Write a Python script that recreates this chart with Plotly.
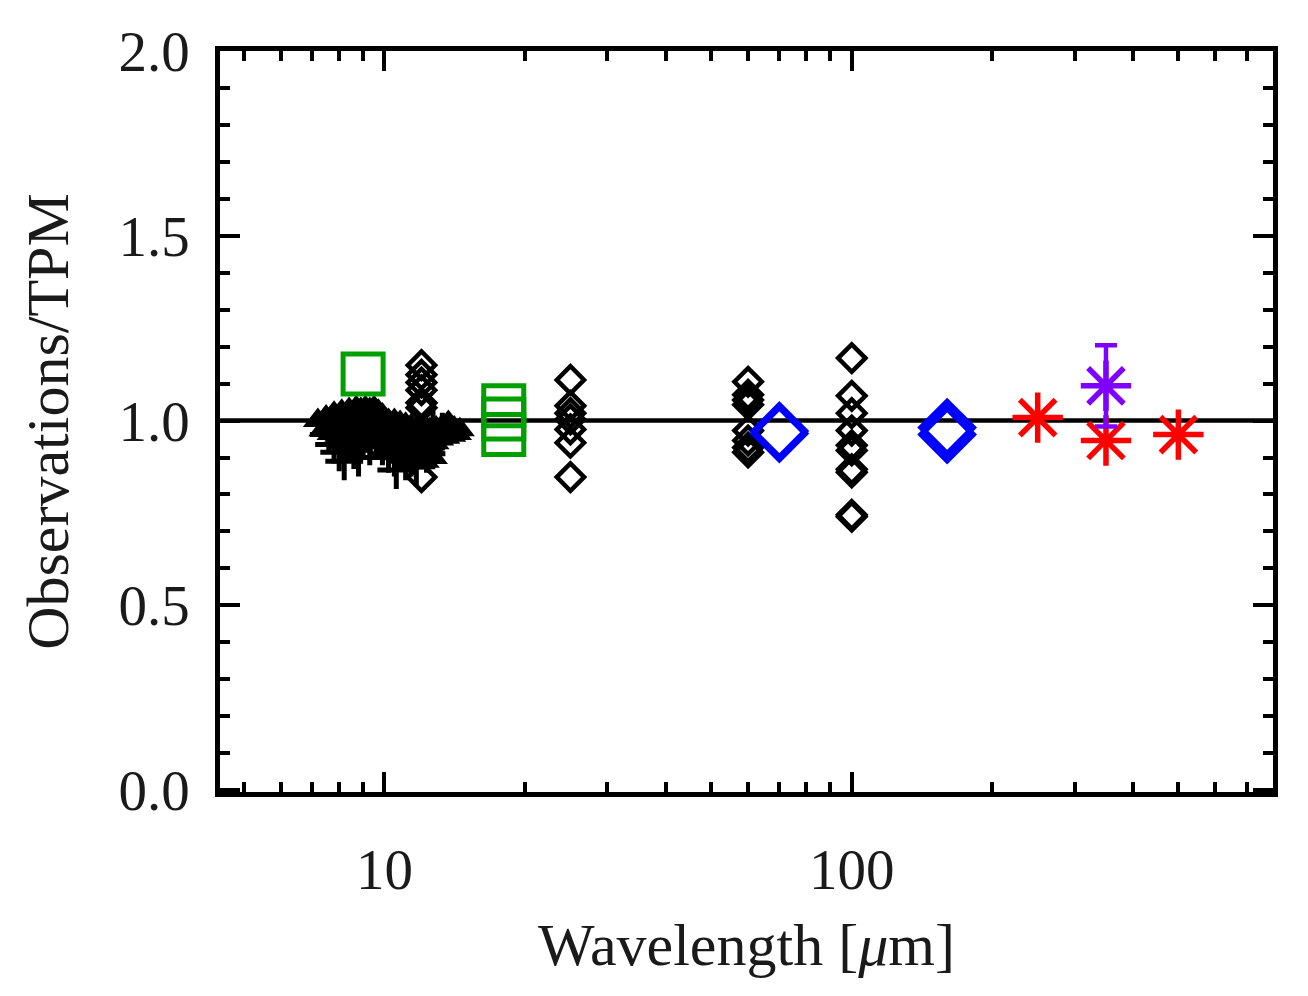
import plotly.graph_objects as go

# mid-IR spectra (filled triangles)
tri_a_wl = [7.2, 7.5, 7.8, 8.1, 8.4, 8.7, 8.9, 9.1, 9.3, 9.5, 9.7, 9.9, 10.2, 10.5, 10.8,
            11.1, 11.4, 11.7, 12.1, 12.5, 12.9, 13.3, 13.7, 14.1, 14.5]
tri_a_val = [1.00, 1.01, 1.02, 1.025, 1.03, 1.035, 1.03, 1.035, 1.03, 1.035, 1.025, 1.015, 1.00, 1.00, 0.995,
             0.99, 0.985, 0.975, 0.97, 0.975, 0.98, 0.985, 0.995, 0.98, 0.975]
tri_b_wl = [7.4, 7.7, 8.0, 8.3, 8.6, 8.9, 9.2, 9.5, 9.8, 10.1, 10.4, 10.7, 11.0, 11.3, 11.6,
            11.9, 12.2, 12.5, 12.8, 13.1, 13.5, 13.9, 14.3]
tri_b_val = [0.975, 0.965, 0.96, 0.965, 0.97, 0.98, 0.985, 0.975, 0.965, 0.955, 0.945, 0.935, 0.925, 0.915, 0.905,
             0.91, 0.92, 0.93, 0.94, 0.95, 0.955, 0.96, 0.965]
tri_c_wl = [7.9, 8.4, 8.9, 9.4, 9.9, 10.4, 10.9, 11.4, 11.9, 12.4, 12.9, 13.4]
tri_c_val = [1.00, 1.005, 1.01, 1.00, 0.99, 0.975, 0.965, 0.955, 0.95, 0.955, 0.96, 0.97]
tri_d_wl = [8.2, 8.7, 9.2, 9.7, 10.2, 10.7, 11.2, 11.7, 12.2, 12.7]
tri_d_val = [0.94, 0.945, 0.95, 0.94, 0.925, 0.91, 0.895, 0.885, 0.89, 0.90]

# mid-IR photometry (plus signs)
plus_wl = [7.6, 7.8, 8.0, 8.2, 8.3, 8.4, 8.6, 8.8, 9.0, 9.3, 9.6, 9.9, 10.2, 10.5, 10.6,
           10.8, 11.1, 11.4, 11.7, 12.0, 12.3, 12.7, 13.0, 13.3]
plus_val = [0.962, 0.935, 0.914, 0.89, 0.96, 0.94, 0.92, 0.90, 0.95, 0.93, 0.96, 0.93, 0.91, 0.90, 0.866,
            0.92, 0.89, 0.90, 0.875, 0.93, 0.91, 1.00, 0.95, 0.97]

# green squares
sq_wl = [9.0, 18.0, 18.0, 18.0]
sq_val = [1.126, 1.040, 1.004, 0.962]

# IRAS (black diamonds)
iras_wl = [12.0] * 7 + [25.0] * 7 + [60.0] * 8 + [100.0] * 10
iras_val = [1.150, 1.124, 1.103, 1.082, 1.048, 1.035, 0.847,
            1.110, 1.040, 1.020, 1.003, 0.976, 0.940, 0.847,
            1.105, 1.070, 1.056, 1.043, 0.973, 0.946, 0.927, 0.914,
            1.169, 1.067, 1.020, 0.973, 0.933, 0.919, 0.868, 0.860, 0.745, 0.740]

# blue diamonds
pacs_wl = [70.0, 70.0, 160.0, 160.0]
pacs_val = [0.965, 0.972, 0.981, 0.962]

# red asterisks
spire_wl = [250.0, 350.0, 500.0]
spire_val = [1.008, 0.946, 0.962]

# purple asterisk with error bar
sub_wl = [350.0]
sub_val = [1.094]
sub_err = [0.11]

serif = "Liberation Serif"

fig = go.Figure()

fig.add_trace(go.Scatter(x=[4.45, 797], y=[1.0, 1.0], mode="lines",
                         line=dict(color="black", width=4.5), showlegend=False))

for wl, val in [(tri_a_wl, tri_a_val), (tri_b_wl, tri_b_val),
                (tri_c_wl, tri_c_val), (tri_d_wl, tri_d_val)]:
    fig.add_trace(go.Scatter(x=wl, y=val, mode="markers",
                             marker=dict(symbol="triangle-up", size=26, color="black",
                                         line=dict(width=0)),
                             showlegend=False))

fig.add_trace(go.Scatter(x=plus_wl, y=plus_val, mode="markers",
                         marker=dict(symbol="cross-thin-open", size=27, color="black",
                                     line=dict(color="black", width=5)),
                         showlegend=False))

fig.add_trace(go.Scatter(x=iras_wl, y=iras_val, mode="markers",
                         marker=dict(symbol="diamond-open", size=21, color="black",
                                     line=dict(color="black", width=4.5)),
                         showlegend=False))

fig.add_trace(go.Scatter(x=sq_wl, y=sq_val, mode="markers",
                         marker=dict(symbol="square-open", size=40, color="#00a000",
                                     line=dict(color="#00a000", width=5)),
                         showlegend=False))

fig.add_trace(go.Scatter(x=pacs_wl, y=pacs_val, mode="markers",
                         marker=dict(symbol="diamond-open", size=40, color="#0000ff",
                                     line=dict(color="#0000ff", width=5.5)),
                         showlegend=False))

fig.add_trace(go.Scatter(x=spire_wl, y=spire_val, mode="markers",
                         marker=dict(symbol="asterisk-open", size=42, color="#ff0000",
                                     line=dict(color="#ff0000", width=5.5)),
                         showlegend=False))

fig.add_trace(go.Scatter(x=sub_wl, y=sub_val, mode="markers",
                         marker=dict(symbol="asterisk-open", size=42, color="#7f00ff",
                                     line=dict(color="#7f00ff", width=5.5)),
                         error_y=dict(type="data", array=sub_err, color="#7f00ff",
                                      thickness=4.5, width=11),
                         showlegend=False))

minor_x = [5, 6, 7, 8, 9, 20, 30, 40, 50, 60, 70, 80, 90, 200, 300, 400, 500, 600, 700]

fig.update_layout(
    width=1300, height=988,
    margin=dict(l=212, r=35, t=38, b=204),
    plot_bgcolor="white", paper_bgcolor="white",
    font=dict(family=serif, size=57, color="#1a1a1a"),
    xaxis=dict(type="log", range=[0.648, 2.9015],
               tickvals=[10, 100], ticktext=["10", "100"],
               ticks="inside", ticklen=20, tickwidth=4, tickcolor="black",
               minor=dict(tickvals=minor_x, ticks="inside", ticklen=10,
                          tickwidth=4, tickcolor="black"),
               showline=True, linecolor="black", linewidth=4.5, mirror="allticks",
               showgrid=False, zeroline=False, ticklabelstandoff=24,
               title=dict(text="Wavelength [<i>μ</i>m]", standoff=24,
                          font=dict(size=60))),
    yaxis=dict(range=[-0.005, 2.0],
               tickvals=[0.0, 0.5, 1.0, 1.5, 2.0],
               ticktext=["0.0", "0.5", "1.0", "1.5", "2.0"],
               ticks="inside", ticklen=20, tickwidth=4, tickcolor="black",
               minor=dict(dtick=0.1, ticks="inside", ticklen=10,
                          tickwidth=4, tickcolor="black"),
               showline=True, linecolor="black", linewidth=4.5, mirror="allticks",
               showgrid=False, zeroline=False, ticklabelstandoff=14,
               title=dict(text="Observations/TPM", standoff=32,
                          font=dict(size=60))),
)

fig.write_html("out.html")
